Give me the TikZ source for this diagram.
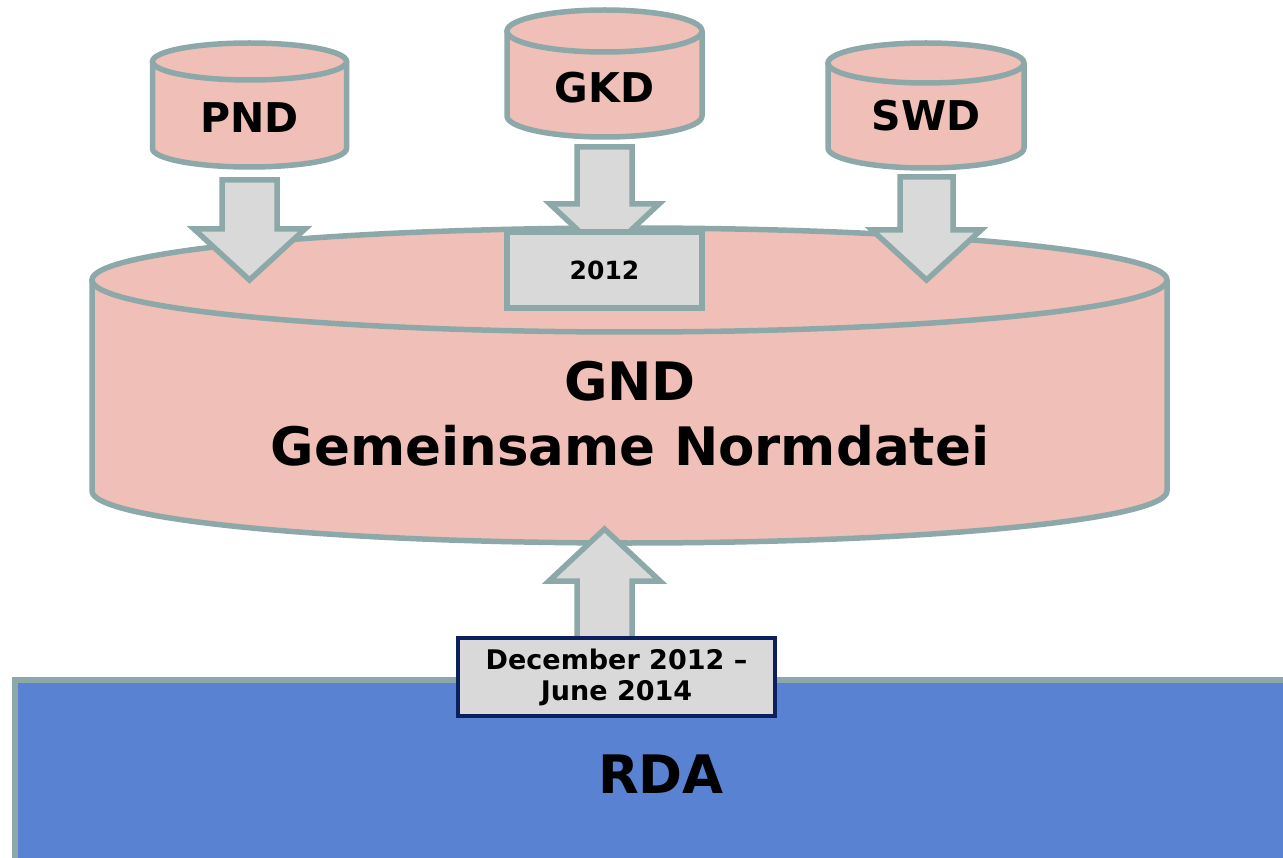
\documentclass[tikz,border=0pt]{standalone}
\usepackage{fontspec}
\setmainfont{DejaVu Sans}
\usetikzlibrary{calc}

\definecolor{dbpink}{HTML}{F0C0B8}
\definecolor{dbline}{HTML}{8CA8A8}
\definecolor{boxgray}{HTML}{D9D9D9}
\definecolor{rdablue}{HTML}{5A82D2}
\definecolor{navyline}{HTML}{0C1F5E}

% cylinder: center x, top y, bottom y, x radius, y radius
\newcommand{\dbcyl}[5]{%
  \fill[dbpink] (#1-#4,#2) -- (#1-#4,#3) arc[start angle=180, end angle=0, x radius=#4, y radius=#5] -- (#1+#4,#2) -- cycle;
  \draw[dbline, line width=5.5pt, line join=round] (#1-#4,#2) -- (#1-#4,#3) arc[start angle=180, end angle=0, x radius=#4, y radius=#5] -- (#1+#4,#2);
  \filldraw[fill=dbpink, draw=dbline, line width=5.5pt] (#1,#2) ellipse [x radius=#4, y radius=#5];
}

\tikzset{
  blockarrow/.style={fill=boxgray, draw=dbline, line width=5.5pt, line join=miter},
  dbtext/.style={font=\bfseries\fontsize{41}{48}\selectfont, anchor=base, inner sep=0pt},
  bigtext/.style={font=\bfseries\fontsize{53}{62}\selectfont, anchor=base, inner sep=0pt},
  yearbox/.style={fill=boxgray, draw=dbline, line width=5.5pt, inner sep=0pt,
    font=\bfseries\fontsize{25}{30}\selectfont},
  datebox/.style={fill=boxgray, draw=navyline, line width=4.5pt, inner sep=0pt, align=center,
    font=\bfseries\fontsize{27}{31}\selectfont}
}

\begin{document}
\begin{tikzpicture}[x=1pt, y=-1pt]
  \useasboundingbox (0,0) rectangle (1283,858);

  % RDA
  \filldraw[fill=rdablue, draw=dbline, line width=5.5pt] (15,680) rectangle (1300,880);
  \node[bigtext] (rda) at (661,793) {RDA};

  % GND
  \dbcyl{629.5}{280}{491}{537.5}{52}
  \node[bigtext] (gnd) at (630,401) {GND};
  \node[bigtext] (gndname) at (630,465) {Gemeinsame Normdatei};

  % source files
  \dbcyl{249.5}{61.5}{148.5}{97}{18.5}
  \dbcyl{604.5}{31}{116}{97.5}{21}
  \dbcyl{926}{63}{148}{98}{20}
  \node[dbtext] (pnd) at (249.5,133) {PND};
  \node[dbtext] (gkd) at (604.5,103) {GKD};
  \node[dbtext] (swd) at (926,131) {SWD};

  % arrows into GND
  \filldraw[blockarrow] (222,180) -- (277,180) -- (277,229) -- (305,229) -- (249.5,280)
    -- (194,229) -- (222,229) -- cycle;
  \filldraw[blockarrow] (577,147) -- (632,147) -- (632,204) -- (659,204) -- (604.5,255)
    -- (550,204) -- (577,204) -- cycle;
  \filldraw[blockarrow] (900,177) -- (953,177) -- (953,230) -- (981,230) -- (926.5,280)
    -- (872,230) -- (900,230) -- cycle;
  \node[yearbox, minimum width=195pt, minimum height=76pt] (y2012) at (604.5,270) {2012};

  % arrow from RDA
  \filldraw[blockarrow] (577,650) -- (577,581) -- (549,581) -- (604.5,529) -- (660,581)
    -- (632,581) -- (632,650) -- cycle;
  \node[datebox, minimum width=317pt, minimum height=78pt] (dates) at (616.5,677)
    {December 2012 --\\June 2014};
\end{tikzpicture}
\end{document}
